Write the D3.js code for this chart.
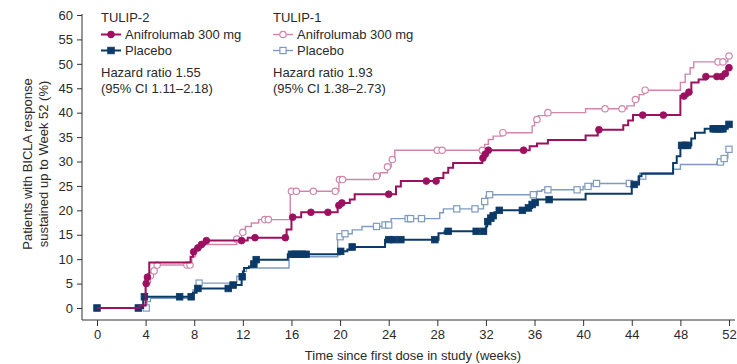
<!DOCTYPE html>
<html>
<head>
<meta charset="utf-8">
<script src="https://cdn.jsdelivr.net/npm/d3@7"></script>
<style>
  body { margin: 0; background: #fff; }
  svg { display: block; font-family: "Liberation Sans", Arial, sans-serif; }
</style>
</head>
<body>
<svg width="737" height="364"></svg>
<script>
// tick labels
const xTicks = [0, 4, 8, 12, 16, 20, 24, 28, 32, 36, 40, 44, 48, 52];
const yTicks = [0, 5, 10, 15, 20, 25, 30, 35, 40, 45, 50, 55, 60];

// TULIP-2 anifrolumab: step times (weeks) / cumulative % / censor marks
const t2AnifWeeks = [0, 3.5, 4.0, 4.1, 4.3, 7.7, 7.9, 8.1, 8.5, 8.9, 12.4, 15.6, 16.0, 16.8, 19.8, 20.1, 20.8, 21.2, 24.6, 25.0, 28.0, 28.5, 28.9, 29.3, 31.7, 31.9, 32.1, 35.6, 36.2, 37.1, 40.2, 41.2, 43.3, 43.7, 44.1, 48.0, 48.6, 48.9, 49.5, 50.1, 51.5, 51.8];
const t2AnifValues = [0, 0.5, 5.0, 6.3, 9.3, 10.5, 11.5, 12.3, 13.0, 13.8, 14.4, 16.1, 18.6, 19.6, 21.0, 21.5, 22.2, 23.3, 24.9, 26.0, 26.6, 27.7, 28.7, 29.7, 30.7, 31.5, 32.3, 33.1, 33.7, 34.4, 35.3, 36.5, 37.4, 38.4, 39.5, 43.4, 44.2, 46.2, 46.8, 47.4, 48.0, 49.2];
const t2AnifCensor = [4.05, 4.15, 7.95, 8.3, 8.6, 9.0, 11.9, 13.0, 15.5, 16.1, 17.6, 19.0, 19.9, 20.15, 24.0, 27.1, 27.9, 31.75, 31.95, 32.2, 35.1, 41.3, 44.9, 46.6, 48.3, 48.7, 50.1, 51.0, 51.4, 51.7, 52.0];

// TULIP-2 placebo
const t2PboWeeks = [0, 3.8, 7.9, 8.2, 11.0, 11.9, 12.0, 12.1, 12.5, 12.9, 13.1, 15.7, 20.0, 20.6, 21.0, 23.7, 28.1, 28.6, 32.0, 32.1, 32.2, 32.5, 32.7, 33.1, 35.5, 35.8, 36.0, 36.2, 40.2, 44.0, 44.1, 44.6, 44.8, 47.4, 47.7, 48.0, 48.9, 49.2, 50.0, 51.9];
const t2PboValues = [0, 2.3, 3.1, 4.0, 4.7, 6.4, 7.5, 8.2, 8.5, 9.0, 9.9, 11.0, 11.6, 12.0, 12.5, 14.0, 15.3, 15.7, 16.7, 17.7, 18.4, 18.9, 19.6, 20.0, 20.5, 21.2, 21.6, 22.2, 23.4, 24.9, 25.3, 27.0, 27.5, 29.7, 31.1, 33.3, 34.7, 35.9, 36.7, 37.6];
const t2PboCensor = [0, 3.4, 3.9, 6.8, 7.75, 8.3, 10.8, 11.2, 11.95, 12.9, 13.1, 16.0, 16.3, 16.6, 16.9, 17.2, 20.05, 21.0, 24.0, 24.4, 25.0, 27.8, 28.9, 31.2, 31.8, 32.15, 32.4, 32.6, 33.1, 35.0, 35.5, 35.8, 36.05, 37.2, 44.2, 48.1, 48.4, 48.6, 50.7, 50.9, 51.1, 51.3, 51.5, 52.0];

// TULIP-1 anifrolumab
const t1AnifWeeks = [0, 3.8, 4.0, 4.3, 4.6, 4.9, 7.8, 8.1, 8.5, 11.5, 11.9, 12.2, 12.7, 13.3, 15.9, 19.9, 23.0, 23.3, 23.9, 24.2, 24.5, 31.9, 32.2, 32.6, 33.3, 35.8, 36.0, 36.3, 37.0, 40.2, 43.6, 44.2, 44.6, 45.0, 48.0, 48.4, 48.8, 49.1, 51.9];
const t1AnifValues = [0, 0.5, 5.5, 6.6, 7.6, 8.8, 10.5, 12.0, 13.0, 14.1, 15.5, 16.7, 17.4, 18.1, 23.9, 26.3, 27.0, 27.7, 28.9, 30.4, 32.3, 33.5, 34.5, 35.2, 35.9, 37.3, 38.6, 39.4, 40.0, 40.8, 41.4, 42.7, 43.7, 44.6, 46.2, 47.9, 49.2, 50.4, 51.6];
const t1AnifCensor = [4.15, 4.4, 4.7, 4.95, 7.4, 7.65, 11.5, 12.0, 13.8, 14.1, 16.0, 16.4, 17.8, 19.6, 19.95, 20.2, 23.0, 23.9, 24.3, 28.0, 28.4, 31.7, 33.4, 36.2, 37.1, 41.8, 43.2, 44.3, 45.1, 51.1, 51.5, 52.0];

// TULIP-1 placebo
const t1PboWeeks = [0, 4.1, 4.4, 7.8, 7.9, 8.3, 11.5, 12.0, 12.3, 15.8, 19.8, 20.3, 21.0, 21.8, 23.7, 24.2, 28.2, 28.5, 31.8, 32.0, 32.3, 36.2, 36.6, 40.0, 40.7, 44.5, 45.0, 47.4, 48.0, 51.0, 51.4, 51.9];
const t1PboValues = [0, 1.3, 2.0, 3.0, 3.7, 5.1, 6.5, 7.5, 8.2, 10.5, 14.6, 15.2, 16.0, 16.7, 17.0, 18.3, 19.5, 20.3, 21.8, 22.9, 23.2, 23.9, 24.2, 24.9, 25.5, 27.0, 27.7, 28.4, 29.4, 29.9, 30.6, 32.5];
const t1PboCensor = [4.05, 8.4, 20.0, 20.4, 23.0, 23.7, 24.0, 25.6, 25.8, 26.7, 29.6, 31.1, 31.9, 32.3, 35.9, 37.1, 39.5, 40.4, 41.1, 43.8, 44.9, 51.3, 51.6, 52.0];

const colors = {
  t2Anif: '#9c1060',
  t2Pbo: '#0b3a68',
  t1Anif: '#cf86aa',
  t1Pbo: '#7f9ac0'
};
const textColor = '#2a2a2a';

const series = [
  { key: 't1Pbo', weeks: t1PboWeeks, values: t1PboValues, censor: t1PboCensor, shape: 'square', open: true, width: 1.4 },
  { key: 't1Anif', weeks: t1AnifWeeks, values: t1AnifValues, censor: t1AnifCensor, shape: 'circle', open: true, width: 1.4 },
  { key: 't2Pbo', weeks: t2PboWeeks, values: t2PboValues, censor: t2PboCensor, shape: 'square', open: false, width: 2 },
  { key: 't2Anif', weeks: t2AnifWeeks, values: t2AnifValues, censor: t2AnifCensor, shape: 'circle', open: false, width: 2 }
];

const svg = d3.select('svg');

const x = d3.scaleLinear().domain([0, 52]).range([97, 729]);
const y = d3.scaleLinear().domain([0, 60]).range([308, 15]);

// axes
const xAxis = svg.append('g')
  .attr('transform', 'translate(0,320)')
  .call(d3.axisBottom(x).tickValues(xTicks).tickSize(6).tickPadding(4).tickSizeOuter(0));
xAxis.select('.domain').remove();

const yAxis = svg.append('g')
  .attr('transform', 'translate(82,0)')
  .call(d3.axisLeft(y).tickValues(yTicks).tickSize(5).tickPadding(4).tickSizeOuter(0));
yAxis.select('.domain').remove();

svg.append('line')
  .attr('x1', 82).attr('x2', 735).attr('y1', 320).attr('y2', 320)
  .attr('stroke', '#333').attr('stroke-width', 1);
svg.append('line')
  .attr('x1', 82).attr('x2', 82).attr('y1', 14).attr('y2', 320)
  .attr('stroke', '#333').attr('stroke-width', 1);

svg.selectAll('.tick line').attr('stroke', '#333');
svg.selectAll('.tick text')
  .attr('font-size', 13)
  .attr('fill', textColor)
  .attr('font-family', '"Liberation Sans", Arial, sans-serif');

// axis titles
svg.append('text')
  .attr('x', 413).attr('y', 360)
  .attr('text-anchor', 'middle')
  .attr('font-size', 13)
  .attr('fill', textColor)
  .text('Time since first dose in study (weeks)');

const yTitle = svg.append('text')
  .attr('transform', 'translate(32,164) rotate(-90)')
  .attr('text-anchor', 'middle')
  .attr('font-size', 13)
  .attr('fill', textColor);
yTitle.append('tspan').attr('x', 0).attr('dy', 0).text('Patients with BICLA response');
yTitle.append('tspan').attr('x', 0).attr('dy', 16).text('sustained up to Week 52 (%)');

// step value lookup
function valueAt(s, t) {
  const i = d3.bisectRight(s.weeks, t) - 1;
  return s.values[Math.max(0, i)];
}

const line = d3.line()
  .x(d => x(d[0]))
  .y(d => y(d[1]))
  .curve(d3.curveStepAfter);

function drawMarker(g, shape, open, color, cx, cy) {
  if (shape === 'circle') {
    g.append('circle')
      .attr('cx', cx).attr('cy', cy).attr('r', open ? 3.2 : 3.4)
      .attr('fill', open ? '#fff' : color)
      .attr('stroke', color).attr('stroke-width', open ? 1.2 : 0.8);
  } else {
    const s = open ? 6.2 : 6.6;
    g.append('rect')
      .attr('x', cx - s / 2).attr('y', cy - s / 2)
      .attr('width', s).attr('height', s)
      .attr('fill', open ? '#fff' : color)
      .attr('stroke', color).attr('stroke-width', open ? 1.2 : 0.8);
  }
}

series.forEach(s => {
  const pts = s.weeks.map((w, i) => [w, s.values[i]]);
  const end = d3.max(s.censor);
  pts.push([end, s.values[s.values.length - 1]]);
  const g = svg.append('g');
  g.append('path')
    .attr('d', line(pts))
    .attr('fill', 'none')
    .attr('stroke', colors[s.key])
    .attr('stroke-width', s.width);
  s.censor.forEach(t => {
    drawMarker(g, s.shape, s.open, colors[s.key], x(t), y(valueAt(s, t)));
  });
});

// legend
const legendCols = [
  { x: 101, title: 'TULIP-2', hr: 'Hazard ratio 1.55', ci: '(95% CI 1.11\u20132.18)',
    items: [
      { label: 'Anifrolumab 300 mg', key: 't2Anif', shape: 'circle', open: false },
      { label: 'Placebo', key: 't2Pbo', shape: 'square', open: false }
    ] },
  { x: 273, title: 'TULIP-1', hr: 'Hazard ratio 1.93', ci: '(95% CI 1.38\u20132.73)',
    items: [
      { label: 'Anifrolumab 300 mg', key: 't1Anif', shape: 'circle', open: true },
      { label: 'Placebo', key: 't1Pbo', shape: 'square', open: true }
    ] }
];

legendCols.forEach(c => {
  const g = svg.append('g').attr('font-size', 13).attr('fill', textColor);
  g.append('text').attr('x', c.x).attr('y', 22).text(c.title);
  c.items.forEach((it, i) => {
    const ly = 34.5 + i * 16;
    g.append('line')
      .attr('x1', c.x).attr('x2', c.x + 20).attr('y1', ly).attr('y2', ly)
      .attr('stroke', colors[it.key]).attr('stroke-width', it.open ? 1.4 : 2);
    drawMarker(g, it.shape, it.open, colors[it.key], c.x + 10, ly);
    g.append('text').attr('x', c.x + 24).attr('y', ly + 4.5).text(it.label);
  });
  g.append('text').attr('x', c.x).attr('y', 77).text(c.hr);
  g.append('text').attr('x', c.x).attr('y', 93).text(c.ci);
});
</script>
</body>
</html>
